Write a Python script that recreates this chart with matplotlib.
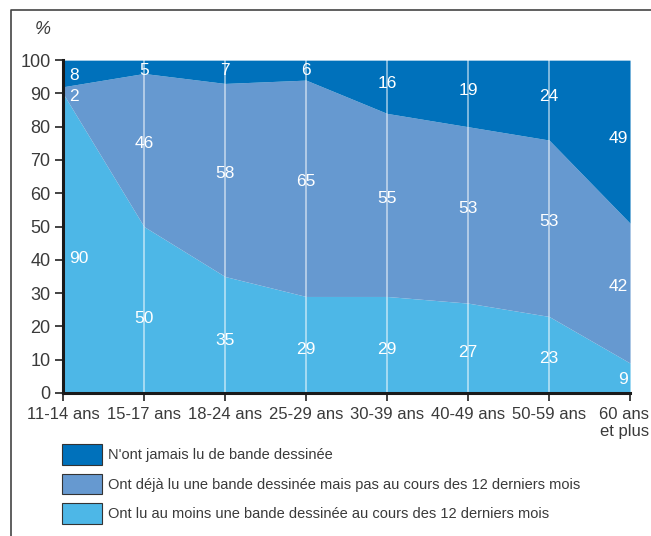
import numpy as np
import matplotlib
matplotlib.use('Agg')
import matplotlib.pyplot as plt
import matplotlib.transforms as mtransforms
from matplotlib.lines import Line2D
from matplotlib.patches import Patch

plt.rcParams['font.family'] = ['Liberation Sans', 'DejaVu Sans']

# tranches d'age
categories = ['11-14 ans', '15-17 ans', '18-24 ans', '25-29 ans',
              '30-39 ans', '40-49 ans', '50-59 ans', '60 ans\net plus']
# Ont lu au moins une BD au cours des 12 derniers mois
lu_12mois = [90, 50, 35, 29, 29, 27, 23, 9]
# Ont deja lu mais pas au cours des 12 derniers mois
lu_avant = [2, 46, 58, 65, 55, 53, 53, 42]
# N'ont jamais lu
jamais = [8, 5, 7, 6, 16, 19, 24, 49]

legend_labels = ["N'ont jamais lu de bande dessinée",
                 "Ont déjà lu une bande dessinée mais pas au cours des 12 derniers mois",
                 "Ont lu au moins une bande dessinée au cours des 12 derniers mois"]

c_dark = '#0071BB'
c_mid = '#6699D0'
c_light = '#4DB7E7'
txt = '#3a3a3a'

x = np.arange(len(categories))
b = np.array(lu_12mois)
m = np.array(lu_avant)
t = np.array(jamais)

fig = plt.figure(figsize=(6.51, 5.36), dpi=100)
ax = fig.add_axes([0.0968, 0.2668, 0.871, 0.621])

ax.fill_between(x, 0, b, color=c_light, lw=0)
ax.fill_between(x, b, b + m, color=c_mid, lw=0)
ax.fill_between(x, b + m, 100, color=c_dark, lw=0)
for xi in x[1:-1]:
    ax.axvline(xi, color='white', alpha=0.5, lw=1.4)

ax.set_xlim(0, len(categories) - 1)
ax.set_ylim(0, 100)
ax.set_yticks(range(0, 101, 10))
ax.set_xticks(x)
ax.set_xticklabels(categories)
ax.tick_params(axis='both', direction='out', length=6, width=1.2,
               colors='#222222', labelsize=12, labelcolor=txt)
ax.tick_params(axis='x', pad=4)
ax.tick_params(axis='y', pad=3, labelsize=13)
for s in ['top', 'right']:
    ax.spines[s].set_visible(False)
for s in ['left', 'bottom']:
    ax.spines[s].set_linewidth(2.2)
    ax.spines[s].set_color('#1a1a1a')

# derniere etiquette alignee a droite, comme l'original
last = ax.get_xticklabels()[-1]
last.set_ha('right')
last.set_transform(last.get_transform() + mtransforms.ScaledTranslation(19 / 100, 0, fig.dpi_scale_trans))

# etiquettes de valeurs
for i in range(len(x)):
    ha = 'center'
    xo = x[i]
    if i == 0:
        ha = 'left'
        xo = x[i] + 0.08
    elif i == len(x) - 1:
        ha = 'right'
        xo = x[i] - 0.03
    yb = b[i] * 0.45
    ym = b[i] + m[i] / 2 + 2
    yt = min((b[i] + m[i] + 100) / 2 + 1, 97)
    if i == 0:
        ym = 89
        yt = 95.5
    for v, yy in [(lu_12mois[i], yb), (lu_avant[i], ym), (jamais[i], yt)]:
        ax.text(xo, yy, str(v), color='white', fontsize=12.5, ha=ha, va='center')

fig.text(0.066, 0.945, '%', fontsize=13, style='italic', color=txt, ha='center', va='center')

# legende
handles = [Patch(facecolor=c, edgecolor='#333333', lw=0.8) for c in [c_dark, c_mid, c_light]]
fig.legend(handles, legend_labels, loc='upper left', bbox_to_anchor=(0.0952, 0.1716),
           frameon=False, fontsize=10.5, handlelength=2.74, handleheight=1.8,
           handletextpad=0.45, labelspacing=0.62, labelcolor=txt, borderpad=0,
           borderaxespad=0)

# cadre
fig.add_artist(Line2D([11 / 651, 11 / 651, 1.0], [0, 1 - 10 / 536, 1 - 10 / 536],
                      transform=fig.transFigure, color='#444444', lw=1.2))

fig.savefig('out.png', dpi=100)
